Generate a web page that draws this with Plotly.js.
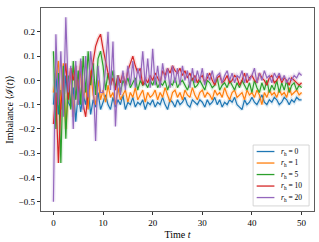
<!DOCTYPE html>
<html>
<head>
<meta charset="utf-8">
<script src="https://cdn.plot.ly/plotly-3.0.1.min.js"></script>
<style>html,body{margin:0;padding:0;background:#fff;}#chart{width:319px;height:242px;}</style>
</head>
<body>
<div id="chart"></div>
<script>
// time grid: 0 to 50 in steps of 0.5
const times = [0,0.5,1,1.5,2,2.5,3,3.5,4,4.5,5,5.5,6,6.5,7,7.5,8,8.5,9,9.5,
10,10.5,11,11.5,12,12.5,13,13.5,14,14.5,15,15.5,16,16.5,17,17.5,18,18.5,19,19.5,
20,20.5,21,21.5,22,22.5,23,23.5,24,24.5,25,25.5,26,26.5,27,27.5,28,28.5,29,29.5,
30,30.5,31,31.5,32,32.5,33,33.5,34,34.5,35,35.5,36,36.5,37,37.5,38,38.5,39,39.5,
40,40.5,41,41.5,42,42.5,43,43.5,44,44.5,45,45.5,46,46.5,47,47.5,48,48.5,49,49.5,50];

const seriesNames = ["<i>r</i><sub>h</sub> = 0", "<i>r</i><sub>h</sub> = 1", "<i>r</i><sub>h</sub> = 5", "<i>r</i><sub>h</sub> = 10", "<i>r</i><sub>h</sub> = 20"];

const rh0 = [-0.10,0.03,-0.14,-0.04,-0.12,0.02,-0.09,-0.11,-0.03,-0.17,
-0.05,-0.13,-0.06,-0.10,-0.03,-0.14,-0.08,-0.11,-0.05,-0.12,
-0.09,-0.06,-0.10,-0.12,-0.07,-0.11,-0.08,-0.10,-0.06,-0.12,
-0.09,-0.10,-0.07,-0.11,-0.09,-0.10,-0.08,-0.12,-0.09,-0.10,
-0.08,-0.11,-0.09,-0.10,-0.07,-0.10,-0.12,-0.08,-0.09,-0.11,
-0.08,-0.10,-0.09,-0.07,-0.10,-0.11,-0.08,-0.09,-0.10,-0.08,
-0.09,-0.11,-0.08,-0.10,-0.09,-0.07,-0.10,-0.08,-0.11,-0.09,
-0.10,-0.08,-0.09,-0.07,-0.10,-0.11,-0.12,-0.08,-0.10,-0.09,
-0.07,-0.09,-0.10,-0.08,-0.06,-0.09,-0.10,-0.08,-0.09,-0.07,
-0.08,-0.10,-0.09,-0.07,-0.08,-0.10,-0.08,-0.09,-0.07,-0.08,
-0.08];

const rh1 = [-0.05,0.02,0.08,-0.12,0.07,-0.20,-0.04,0.05,-0.15,0.03,
-0.10,0.06,-0.08,-0.02,-0.12,0.04,-0.06,-0.10,0.00,-0.08,
-0.04,-0.09,-0.02,-0.07,-0.05,-0.10,-0.03,-0.08,-0.06,-0.04,
-0.09,-0.05,-0.07,-0.03,-0.08,-0.06,-0.04,-0.09,-0.05,-0.07,
-0.06,-0.04,-0.08,-0.05,-0.07,-0.03,-0.06,-0.09,-0.05,-0.04,
-0.07,-0.05,-0.08,-0.04,-0.06,-0.07,-0.03,-0.06,-0.08,-0.05,
-0.04,-0.07,-0.05,-0.06,-0.08,-0.04,-0.06,-0.05,-0.07,-0.03,
-0.06,-0.08,-0.05,-0.04,-0.07,-0.06,-0.05,-0.08,-0.04,-0.06,
-0.05,-0.07,-0.04,-0.06,-0.10,-0.05,-0.07,-0.04,-0.06,-0.05,
-0.07,-0.04,-0.06,-0.05,-0.07,-0.03,-0.06,-0.05,-0.04,-0.06,
-0.05];

const rh5 = [0.12,-0.20,0.03,-0.34,0.06,-0.24,0.02,-0.12,0.08,-0.08,
0.04,-0.10,0.10,-0.05,0.12,-0.02,0.07,-0.06,0.09,0.12,
0.06,-0.04,0.03,-0.02,0.04,-0.03,0.02,-0.05,0.00,-0.02,
0.01,-0.03,-0.01,0.01,-0.04,0.00,-0.02,-0.01,-0.03,0.00,
-0.02,0.01,-0.03,-0.01,-0.02,0.00,-0.04,-0.01,-0.02,0.01,
-0.03,-0.01,0.00,-0.02,-0.04,-0.01,0.01,-0.03,-0.02,0.00,
-0.02,-0.04,0.00,-0.01,-0.03,-0.02,0.01,-0.04,-0.02,-0.01,
-0.03,0.00,-0.02,-0.04,-0.01,-0.03,0.00,-0.02,-0.04,-0.01,
-0.05,0.00,-0.03,-0.05,-0.01,-0.04,0.00,-0.05,-0.02,-0.04,
0.00,-0.05,-0.01,-0.04,0.00,-0.05,-0.02,-0.01,-0.04,-0.02,
-0.03];

const rh10 = [-0.18,-0.05,-0.34,-0.10,-0.02,0.07,-0.08,0.05,0.00,0.06,
-0.06,0.08,-0.10,-0.15,-0.05,0.02,0.08,0.14,0.17,0.19,
0.13,0.08,0.03,-0.02,0.01,-0.04,0.02,-0.01,0.03,-0.02,
0.04,0.07,0.10,0.06,0.03,0.05,-0.02,0.01,-0.01,0.02,
0.00,0.03,0.01,-0.01,0.04,0.02,0.05,0.03,0.06,0.04,
0.03,0.05,0.02,0.04,0.01,0.03,0.00,0.02,-0.01,0.01,
0.02,-0.01,0.01,0.03,0.00,-0.02,0.01,0.02,-0.01,0.00,
0.02,-0.01,0.00,0.02,0.01,-0.02,0.00,0.03,-0.01,0.01,
0.02,0.00,-0.01,0.03,0.01,0.00,-0.02,0.01,0.02,-0.01,
0.00,0.02,-0.01,0.01,0.00,-0.02,0.01,0.00,-0.01,-0.02,
-0.01];

const rh20 = [-0.50,0.19,-0.10,0.12,-0.15,0.26,-0.05,0.06,-0.20,0.08,
-0.10,0.09,-0.12,0.10,-0.07,0.12,0.02,-0.25,0.06,-0.05,
-0.05,0.05,0.20,-0.04,0.16,-0.19,0.02,-0.06,0.04,-0.04,
0.06,-0.02,0.08,-0.03,0.05,0.00,0.12,-0.02,0.09,-0.03,
0.13,-0.02,0.06,-0.03,0.07,0.00,0.05,-0.03,0.06,-0.01,
0.05,-0.02,0.06,0.00,0.04,-0.03,0.05,-0.01,0.04,0.00,
0.05,-0.02,0.03,0.00,0.04,-0.01,0.02,0.03,-0.01,0.02,
0.04,0.00,0.03,-0.01,0.02,0.01,0.04,-0.01,0.03,0.00,
0.02,0.05,-0.01,0.03,0.00,0.04,0.01,0.02,-0.01,0.03,
0.01,0.03,0.00,0.02,-0.01,0.01,0.00,0.02,0.01,0.03,
0.02];

const allSeries = [rh0, rh1, rh5, rh10, rh20];
const colors = ["#1f77b4", "#ff7f0e", "#2ca02c", "#d62728", "#9467bd"];

const traces = [];
// faint bands underneath
allSeries.forEach((ys, i) => {
  traces.push({x: times, y: ys, type: "scatter", mode: "lines", showlegend: false, hoverinfo: "skip",
    line: {color: colors[i], width: 4}, opacity: 0.15});
});
allSeries.forEach((ys, i) => {
  traces.push({x: times, y: ys, type: "scatter", mode: "lines", name: seriesNames[i], showlegend: false,
    line: {color: colors[i], width: 1.2}});
});

const fam = "Liberation Serif, DejaVu Serif, serif";
const tickfont = {family: fam, size: 9, color: "#000000"};

// compact matplotlib-style legend (lower right), built from the series names/colours
const legBox = {x0: 0.777, x1: 0.982, y0: 0.025, y1: 0.325};
const rowTop = 0.293, rowStep = 0.0567;
const shapes = [{type: "rect", xref: "paper", yref: "paper", x0: legBox.x0, x1: legBox.x1, y0: legBox.y0, y1: legBox.y1,
  fillcolor: "rgba(255,255,255,0.85)", line: {color: "#cccccc", width: 0.8}, layer: "above"}];
const annotations = [];
seriesNames.forEach((nm, i) => {
  const yy = rowTop - i * rowStep;
  shapes.push({type: "line", xref: "paper", yref: "paper", x0: 0.79, x1: 0.855, y0: yy, y1: yy,
    line: {color: colors[i], width: 1.3}, layer: "above"});
  annotations.push({xref: "paper", yref: "paper", x: 0.872, y: yy, xanchor: "left", yanchor: "middle",
    text: nm, showarrow: false, font: {family: fam, size: 7.5, color: "#000"}});
});

const layout = {
  width: 319, height: 242,
  margin: {l: 41, r: 5, t: 8, b: 31},
  paper_bgcolor: "#fff", plot_bgcolor: "#fff",
  font: {family: fam, size: 9, color: "#000"},
  showlegend: false,
  shapes: shapes,
  annotations: annotations,
  xaxis: {range: [-2.5, 52.5], tickvals: [0,10,20,30,40,50], ticks: "outside", ticklen: 3.5, tickwidth: 0.8,
    tickcolor: "#000", tickfont: tickfont,
    showline: true, mirror: true, linecolor: "#333", linewidth: 0.8, showgrid: false, zeroline: false,
    title: {text: "Time <i>t</i>", font: {family: fam, size: 10, color: "#000"}, standoff: 3}},
  yaxis: {range: [-0.538, 0.298], tickvals: [-0.5,-0.4,-0.3,-0.2,-0.1,0,0.1,0.2,0.3], tickformat: ".1f",
    ticks: "outside", ticklen: 3.5, tickwidth: 0.8, tickcolor: "#000", tickfont: tickfont,
    showline: true, mirror: true, linecolor: "#333", linewidth: 0.8, showgrid: false, zeroline: false,
    title: {text: "Imbalance ⟨ℐ(<i>t</i>)⟩", font: {family: fam, size: 10, color: "#000"}, standoff: 2}}
};

Plotly.newPlot("chart", traces, layout, {displayModeBar: false, staticPlot: true});
</script>
</body>
</html>
